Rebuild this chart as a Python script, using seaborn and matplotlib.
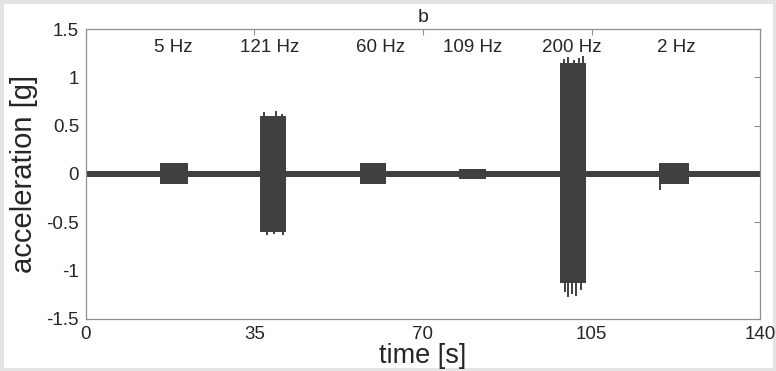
import numpy as np
import matplotlib
matplotlib.use("Agg")
import matplotlib.pyplot as plt
import seaborn as sns

# envelope of the recorded signal, read off the picture
# each segment starts at seg_t and keeps its band until the next one
seg_t = [0, 15.4, 21.2, 36.1, 41.5, 56.9, 62.3, 77.5, 83.1, 98.5, 103.9, 119.0, 125.3, 140]
seg_hi = [0.028, 0.11, 0.028, 0.60, 0.028, 0.11, 0.028, 0.05, 0.028, 1.15, 0.028, 0.11, 0.028, 0.028]
seg_lo = [-0.028, -0.10, -0.028, -0.60, -0.028, -0.10, -0.028, -0.05, -0.028, -1.13, -0.028, -0.10, -0.028, -0.028]

# jagged peaks at the burst edges
spike_t = [0.1, 37.0, 39.5, 40.8, 37.5, 39.0, 41.0, 99.2, 100.2, 101.3, 102.4, 103.2,
           99.4, 100.1, 100.9, 101.8, 102.8, 119.2]
spike_y = [0.43, 0.64, 0.65, 0.62, -0.63, -0.62, -0.63, 1.19, 1.21, 1.18, 1.20, 1.22,
           -1.22, -1.27, -1.24, -1.26, -1.20, -0.17]

freq_t = [18.1, 38.2, 61.1, 80.4, 101.0, 122.6]
freq_txt = ["5 Hz", "121 Hz", "60 Hz", "109 Hz", "200 Hz", "2 Hz"]

x_ticks = [0, 35, 70, 105, 140]
y_ticks = [-1.5, -1, -0.5, 0, 0.5, 1, 1.5]

sns.set_style("white")
plt.rcParams["font.family"] = ["Liberation Sans", "DejaVu Sans"]

fig = plt.figure(figsize=(7.76, 3.71), dpi=100)
fig.patch.set_edgecolor("#e4e4e4")
fig.patch.set_linewidth(5)
ax = fig.add_axes([0.1108, 0.1402, 0.8686, 0.7816])

sig = "#404040"
ax.fill_between(seg_t, seg_lo, seg_hi, step="post", color=sig, linewidth=0)
ax.vlines(spike_t, 0, spike_y, color=sig, linewidth=1.4)

for t, s in zip(freq_t, freq_txt):
    ax.text(t, 1.31, s, ha="center", va="center", fontsize=13.5)

ax.set_xlim(0, 140)
ax.set_ylim(-1.5, 1.5)
ax.set_xticks(x_ticks)
ax.set_yticks(y_ticks)
ax.set_yticklabels(["-1.5", "-1", "-0.5", "0", "0.5", "1", "1.5"])
ax.tick_params(direction="in", length=4, width=0.8, color="#909090", pad=5,
               labelsize=13.5, top=True, right=True, labeltop=False, labelright=False)
for s in ax.spines.values():
    s.set_color("#909090")
    s.set_linewidth(0.9)

ax.set_xlabel("time [s]", fontsize=19.5, labelpad=0)
ax.set_ylabel("acceleration [g]", fontsize=21, labelpad=6)
ax.set_title("b", fontsize=14, pad=5)

fig.savefig("out.png", dpi=100, facecolor="white", edgecolor=fig.get_edgecolor())
